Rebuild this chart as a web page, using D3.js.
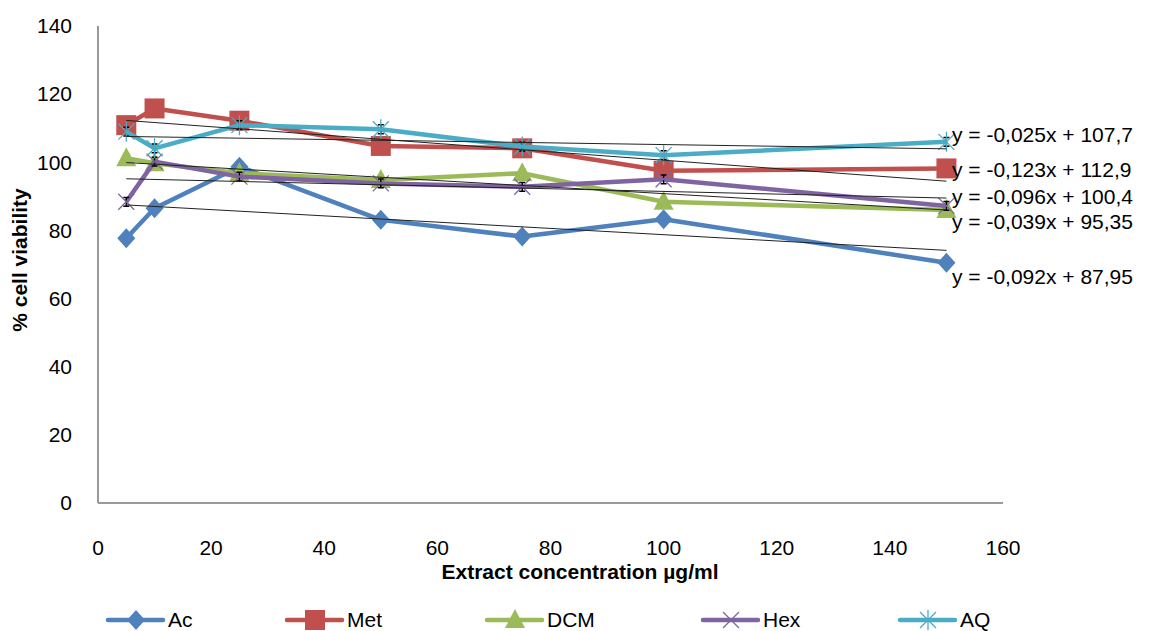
<!DOCTYPE html>
<html>
<head>
<meta charset="utf-8">
<script src="https://cdn.jsdelivr.net/npm/d3@7"></script>
<style>
  body { margin: 0; background: #fff; }
  text { font-family: "Liberation Sans", "Open Sans", sans-serif; fill: #000; }
</style>
</head>
<body>
<div id="chart"></div>
<script>
// 数据
const concentrations = [5, 10, 25, 50, 75, 100, 150];
const seriesNames = ["Ac", "Met", "DCM", "Hex", "AQ"];
const acValues  = [77.7, 86.5, 98.7, 83.1, 78.2, 83.3, 70.5];
const metValues = [110.9, 115.8, 112.2, 104.8, 104.1, 97.5, 98.2];
const dcmValues = [101.2, 99.7, 96.8, 94.8, 96.8, 88.4, 86.0];
const hexValues = [88.4, 100.2, 95.8, 93.8, 92.8, 95.0, 87.2];
const aqValues  = [109.0, 104.1, 110.9, 109.7, 104.6, 102.1, 106.0];
const errorValues = [1.3, 1.3, 1.3, 1.3, 1.3, 1.3, 1.3];
// 趋势线 (slope, intercept) 与标签
const trendSlopes = [-0.092, -0.123, -0.096, -0.039, -0.025];
const trendIntercepts = [87.95, 112.9, 100.4, 95.35, 107.7];
const trendLabels = ["y = -0,092x + 87,95", "y = -0,123x + 112,9", "y = -0,096x + 100,4",
                     "y = -0,039x + 95,35", "y = -0,025x + 107,7"];
const xTicks = [0, 20, 40, 60, 80, 100, 120, 140, 160];
const yTicks = [0, 20, 40, 60, 80, 100, 120, 140];

const width = 1160, height = 631;
const colors = ["#4F81BD", "#C0504D", "#9BBB59", "#8064A2", "#4BACC6"];
const allValues = [acValues, metValues, dcmValues, hexValues, aqValues];

const svg = d3.select("#chart").append("svg")
    .attr("width", width).attr("height", height);

const x = d3.scaleLinear().domain([0, 160]).range([98, 1003]);
const y = d3.scaleLinear().domain([0, 140]).range([503, 26]);

// 坐标轴
svg.append("line").attr("x1", x(0)).attr("x2", x(0)).attr("y1", y(140)).attr("y2", y(0))
    .attr("stroke", "#9a9a9a").attr("stroke-width", 2);
svg.append("line").attr("x1", x(0)).attr("x2", x(160)).attr("y1", y(0)).attr("y2", y(0))
    .attr("stroke", "#9a9a9a").attr("stroke-width", 2);

svg.append("g").selectAll("text").data(yTicks).enter().append("text")
    .attr("x", 72).attr("y", d => y(d)).attr("dy", "0.35em")
    .attr("text-anchor", "end").style("font-size", "21px")
    .text(d => d);

svg.append("g").selectAll("text").data(xTicks).enter().append("text")
    .attr("x", d => x(d)).attr("y", 548).attr("dy", "0.35em")
    .attr("text-anchor", "middle").style("font-size", "21px")
    .text(d => d);

svg.append("text").attr("x", 580).attr("y", 572).attr("dy", "0.35em")
    .attr("text-anchor", "middle").style("font-size", "21px").style("font-weight", "bold")
    .text("Extract  concentration µg/ml");

svg.append("text").attr("transform", "translate(20,260) rotate(-90)")
    .attr("dy", "0.35em").attr("text-anchor", "middle")
    .style("font-size", "21px").style("font-weight", "bold")
    .text("% cell viability");

// 标记形状
function drawMarker(g, i, cx, cy) {
    const c = colors[i];
    if (i === 0) {
        g.append("path").attr("d", `M${cx},${cy - 10}L${cx + 9},${cy}L${cx},${cy + 10}L${cx - 9},${cy}Z`).attr("fill", c);
    } else if (i === 1) {
        g.append("rect").attr("x", cx - 10).attr("y", cy - 10).attr("width", 20).attr("height", 20).attr("fill", c);
    } else if (i === 2) {
        g.append("path").attr("d", `M${cx},${cy - 11}L${cx + 10},${cy + 8}L${cx - 10},${cy + 8}Z`).attr("fill", c);
    } else if (i === 3) {
        g.append("path").attr("d", `M${cx - 8},${cy - 8}L${cx + 8},${cy + 8}M${cx - 8},${cy + 8}L${cx + 8},${cy - 8}`)
            .attr("stroke", c).attr("stroke-width", 1.3).attr("fill", "none");
    } else {
        g.append("path").attr("d", `M${cx - 8},${cy - 8}L${cx + 8},${cy + 8}M${cx - 8},${cy + 8}L${cx + 8},${cy - 8}M${cx},${cy - 10}L${cx},${cy + 10}`)
            .attr("stroke", c).attr("stroke-width", 1.3).attr("fill", "none");
    }
}

const line = d3.line().x((d, i) => x(concentrations[i])).y(d => y(d));

allValues.forEach((vals, si) => {
    const g = svg.append("g");
    g.append("path").datum(vals).attr("d", line)
        .attr("fill", "none").attr("stroke", colors[si]).attr("stroke-width", 4.5)
        .attr("stroke-linejoin", "round");
    // 误差线
    vals.forEach((v, i) => {
        const cx = x(concentrations[i]);
        const e = errorValues[i];
        g.append("path")
            .attr("d", `M${cx},${y(v - e)}L${cx},${y(v + e)}M${cx - 3},${y(v - e)}L${cx + 3},${y(v - e)}M${cx - 3},${y(v + e)}L${cx + 3},${y(v + e)}`)
            .attr("stroke", "#000").attr("stroke-width", 1.5).attr("fill", "none");
    });
    vals.forEach((v, i) => drawMarker(g, si, x(concentrations[i]), y(v)));
});

// 趋势线
trendSlopes.forEach((s, i) => {
    const x0 = concentrations[0], x1 = concentrations[concentrations.length - 1];
    svg.append("line")
        .attr("x1", x(x0)).attr("y1", y(s * x0 + trendIntercepts[i]))
        .attr("x2", x(x1)).attr("y2", y(s * x1 + trendIntercepts[i]))
        .attr("stroke", "#222").attr("stroke-width", 1);
});

// 趋势线方程
const labelY = [277, 170, 197, 222, 135];
trendLabels.forEach((t, i) => {
    svg.append("text").attr("x", 952).attr("y", labelY[i]).attr("dy", "0.35em")
        .style("font-size", "21px").text(t);
});

// 图例
const legendX = [108, 287, 487, 703, 900];
seriesNames.forEach((name, i) => {
    const g = svg.append("g");
    const lx = legendX[i], ly = 620;
    g.append("line").attr("x1", lx).attr("x2", lx + 55).attr("y1", ly).attr("y2", ly)
        .attr("stroke", colors[i]).attr("stroke-width", 4.5).attr("stroke-linecap", "round");
    drawMarker(g, i, lx + 28, ly);
    g.append("text").attr("x", lx + 60).attr("y", ly).attr("dy", "0.35em")
        .style("font-size", "21px").text(name);
});
</script>
</body>
</html>
